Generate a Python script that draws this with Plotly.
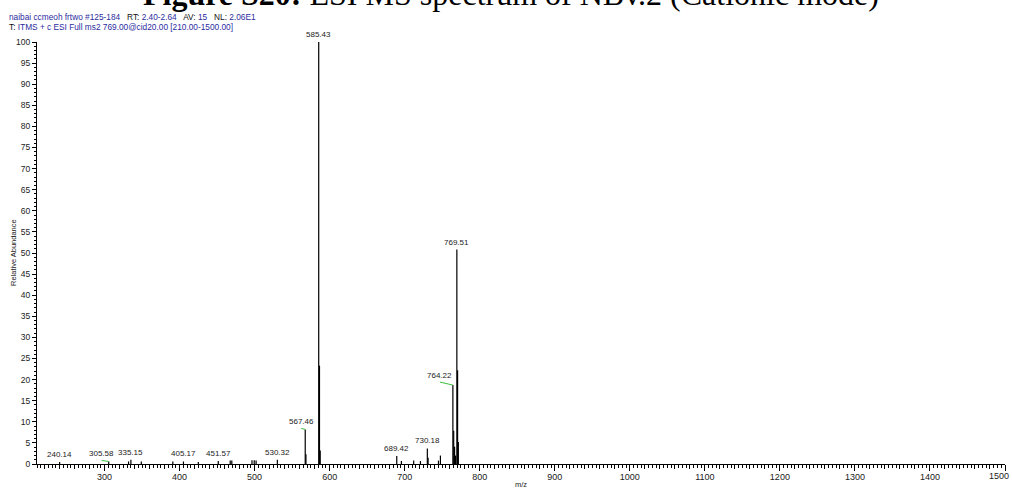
import plotly.graph_objects as go

# ---- spectrum data: centroid peaks (m/z, relative abundance %) ----
peak_mz = [240.14, 305.58, 332.0, 335.15, 349.0, 391.0, 405.17, 425.0,
           451.57, 467.5, 469.6, 496.5, 499.5, 502.0, 530.32, 567.46,
           568.4, 585.43, 586.45, 587.4, 689.42, 695.6, 712.0, 721.0,
           730.18, 731.2, 745.0, 747.6, 764.22, 765.3, 766.5, 767.8,
           769.51, 770.5, 771.5]
peak_int = [0.5, 0.6, 0.6, 1.0, 0.6, 0.6, 0.6, 0.5,
            0.7, 0.8, 0.8, 0.9, 0.9, 0.8, 1.0, 8.2,
            2.3, 100.0, 23.3, 3.2, 1.9, 0.7, 0.8, 0.7,
            3.7, 1.5, 0.8, 2.0, 18.7, 7.9, 4.1, 2.0,
            50.8, 22.2, 5.2]

# peaks that carry an m/z label
labeled_mz = [240.14, 305.58, 335.15, 405.17, 451.57, 530.32,
              567.46, 585.43, 689.42, 730.18, 764.22, 769.51]

# labels moved aside from their peak (pixel offsets) get a green leader line
moved_labels = {305.58: (-7, 0), 567.46: (-4, 0), 764.22: (-13, 2)}

x_range = [210, 1500]
y_range = [0, 100]
x_ticks = list(range(300, 1501, 100))

header_1 = ("<span style='color:#2b2ba0'>naibai ccmeoh frtwo #125-184</span>\u00a0\u00a0 RT:\u00a0"
            "<span style='color:#2b2ba0'>2.40-2.64</span>\u00a0\u00a0 AV:\u00a0"
            "<span style='color:#2b2ba0'>15</span>\u00a0\u00a0 NL:\u00a0"
            "<span style='color:#2b2ba0'>2.06E1</span>")
header_2 = ("T:\u00a0<span style='color:#2b2ba0'>ITMS + c ESI Full ms2 769.00@cid20.00 "
            "[210.00-1500.00]</span>")
title_text = "<b>Figure S20:</b> ESI MS spectrum of NBv.2 (Cationic mode)"

W, H = 1012, 489
M = dict(l=37, r=7, t=42, b=25)
PW = W - M["l"] - M["r"]
PH = H - M["t"] - M["b"]


def px_to_paper_x(px):
    return (px - M["l"]) / PW


def px_to_paper_y(py):
    return 1 - (py - M["t"]) / PH


# stick spectrum built from the peak arrays
xs, ys = [], []
for m, v in zip(peak_mz, peak_int):
    xs += [m, m, None]
    ys += [0, v, None]

fig = go.Figure()
fig.add_trace(go.Scatter(x=xs, y=ys, mode="lines",
                         line=dict(color="black", width=1.2),
                         hoverinfo="skip", showlegend=False, cliponaxis=False))
# invisible trace to activate the overlaid tick axis
fig.add_trace(go.Scatter(x=[x_range[0]], y=[0], xaxis="x2", mode="markers",
                         marker=dict(opacity=0), showlegend=False, hoverinfo="skip"))

sans = "Liberation Sans, Arial, sans-serif"
label_font = dict(family=sans, size=8, color="#222")
annotations = []
shapes = []
intensity = dict(zip(peak_mz, peak_int))
for m in labeled_mz:
    h = intensity[m]
    dx, dy = moved_labels.get(m, (0, 0))
    annotations.append(dict(x=m, y=h, xref="x", yref="y", text=f"{m:.2f}",
                            showarrow=False, xanchor="center", yanchor="bottom",
                            xshift=dx, yshift=dy + 1, font=label_font))
    if m in moved_labels:
        shapes.append(dict(type="line", xref="x", yref="y",
                           xsizemode="pixel", xanchor=m, x0=dx, x1=0,
                           ysizemode="pixel", yanchor=h, y0=dy + 1, y1=0,
                           line=dict(color="#39c239", width=1)))

tick_font = dict(family=sans, size=9, color="#222")

annotations += [
    dict(x=px_to_paper_x(511), y=px_to_paper_y(-6), xref="paper", yref="paper",
         text=title_text, showarrow=False, xanchor="center", yanchor="middle",
         font=dict(family="Liberation Serif, Times New Roman, serif", size=32, color="black")),
    dict(x=px_to_paper_x(7), y=px_to_paper_y(17), xref="paper", yref="paper",
         text=header_1, showarrow=False, xanchor="left", yanchor="middle",
         font=dict(family=sans, size=8.3, color="#111")),
    dict(x=px_to_paper_x(7), y=px_to_paper_y(26.5), xref="paper", yref="paper",
         text=header_2, showarrow=False, xanchor="left", yanchor="middle",
         font=dict(family=sans, size=8.3, color="#111")),
    dict(x=px_to_paper_x(13), y=0.5, xref="paper", yref="paper",
         text="Relative Abundance", textangle=-90, showarrow=False,
         xanchor="center", yanchor="middle",
         font=dict(family=sans, size=7.5, color="#222")),
    dict(x=0.5, y=px_to_paper_y(484), xref="paper", yref="paper",
         text="m/z", showarrow=False, xanchor="center", yanchor="middle",
         font=dict(family=sans, size=7.5, color="#222")),
    # last tick label kept inside the page edge
    dict(x=x_ticks[-1], xref="x", y=px_to_paper_y(475.5), yref="paper",
         text=str(x_ticks[-1]), showarrow=False, xanchor="right", yanchor="middle",
         xshift=6, font=tick_font),
]

fig.update_layout(
    width=W, height=H, margin=dict(M, autoexpand=False),
    paper_bgcolor="white", plot_bgcolor="white",
    annotations=annotations, shapes=shapes,
    xaxis=dict(range=x_range, showgrid=False, zeroline=False, automargin=False,
               showline=True, linecolor="black", linewidth=1,
               ticks="outside", ticklen=6, tickwidth=1, tickcolor="black",
               tickmode="array", tickvals=x_ticks,
               ticktext=[str(t) for t in x_ticks[:-1]] + [""],
               tickfont=tick_font, ticklabeloverflow="allow",
               ticklabelstandoff=-2,
               minor=dict(ticks="outside", ticklen=2.5, tickwidth=1,
                          tickcolor="black", dtick=5, tick0=0, showgrid=False)),
    xaxis2=dict(range=x_range, overlaying="x", anchor="y", side="bottom",
                showgrid=False, zeroline=False, showline=False, automargin=False,
                showticklabels=False, ticks="outside", ticklen=4,
                tickwidth=1, tickcolor="black", tickmode="linear",
                tick0=0, dtick=20),
    yaxis=dict(range=y_range, showgrid=False, zeroline=False, automargin=False,
               showline=True, linecolor="black", linewidth=1,
               ticks="outside", ticklen=4, tickwidth=1, tickcolor="black",
               tick0=0, dtick=5, tickfont=dict(family=sans, size=8.5, color="#222"),
               ticklabeloverflow="allow",
               minor=dict(ticks="outside", ticklen=2.5, tickwidth=1,
                          tickcolor="black", dtick=1, tick0=0, showgrid=False)),
)

fig.write_html("out.html")
